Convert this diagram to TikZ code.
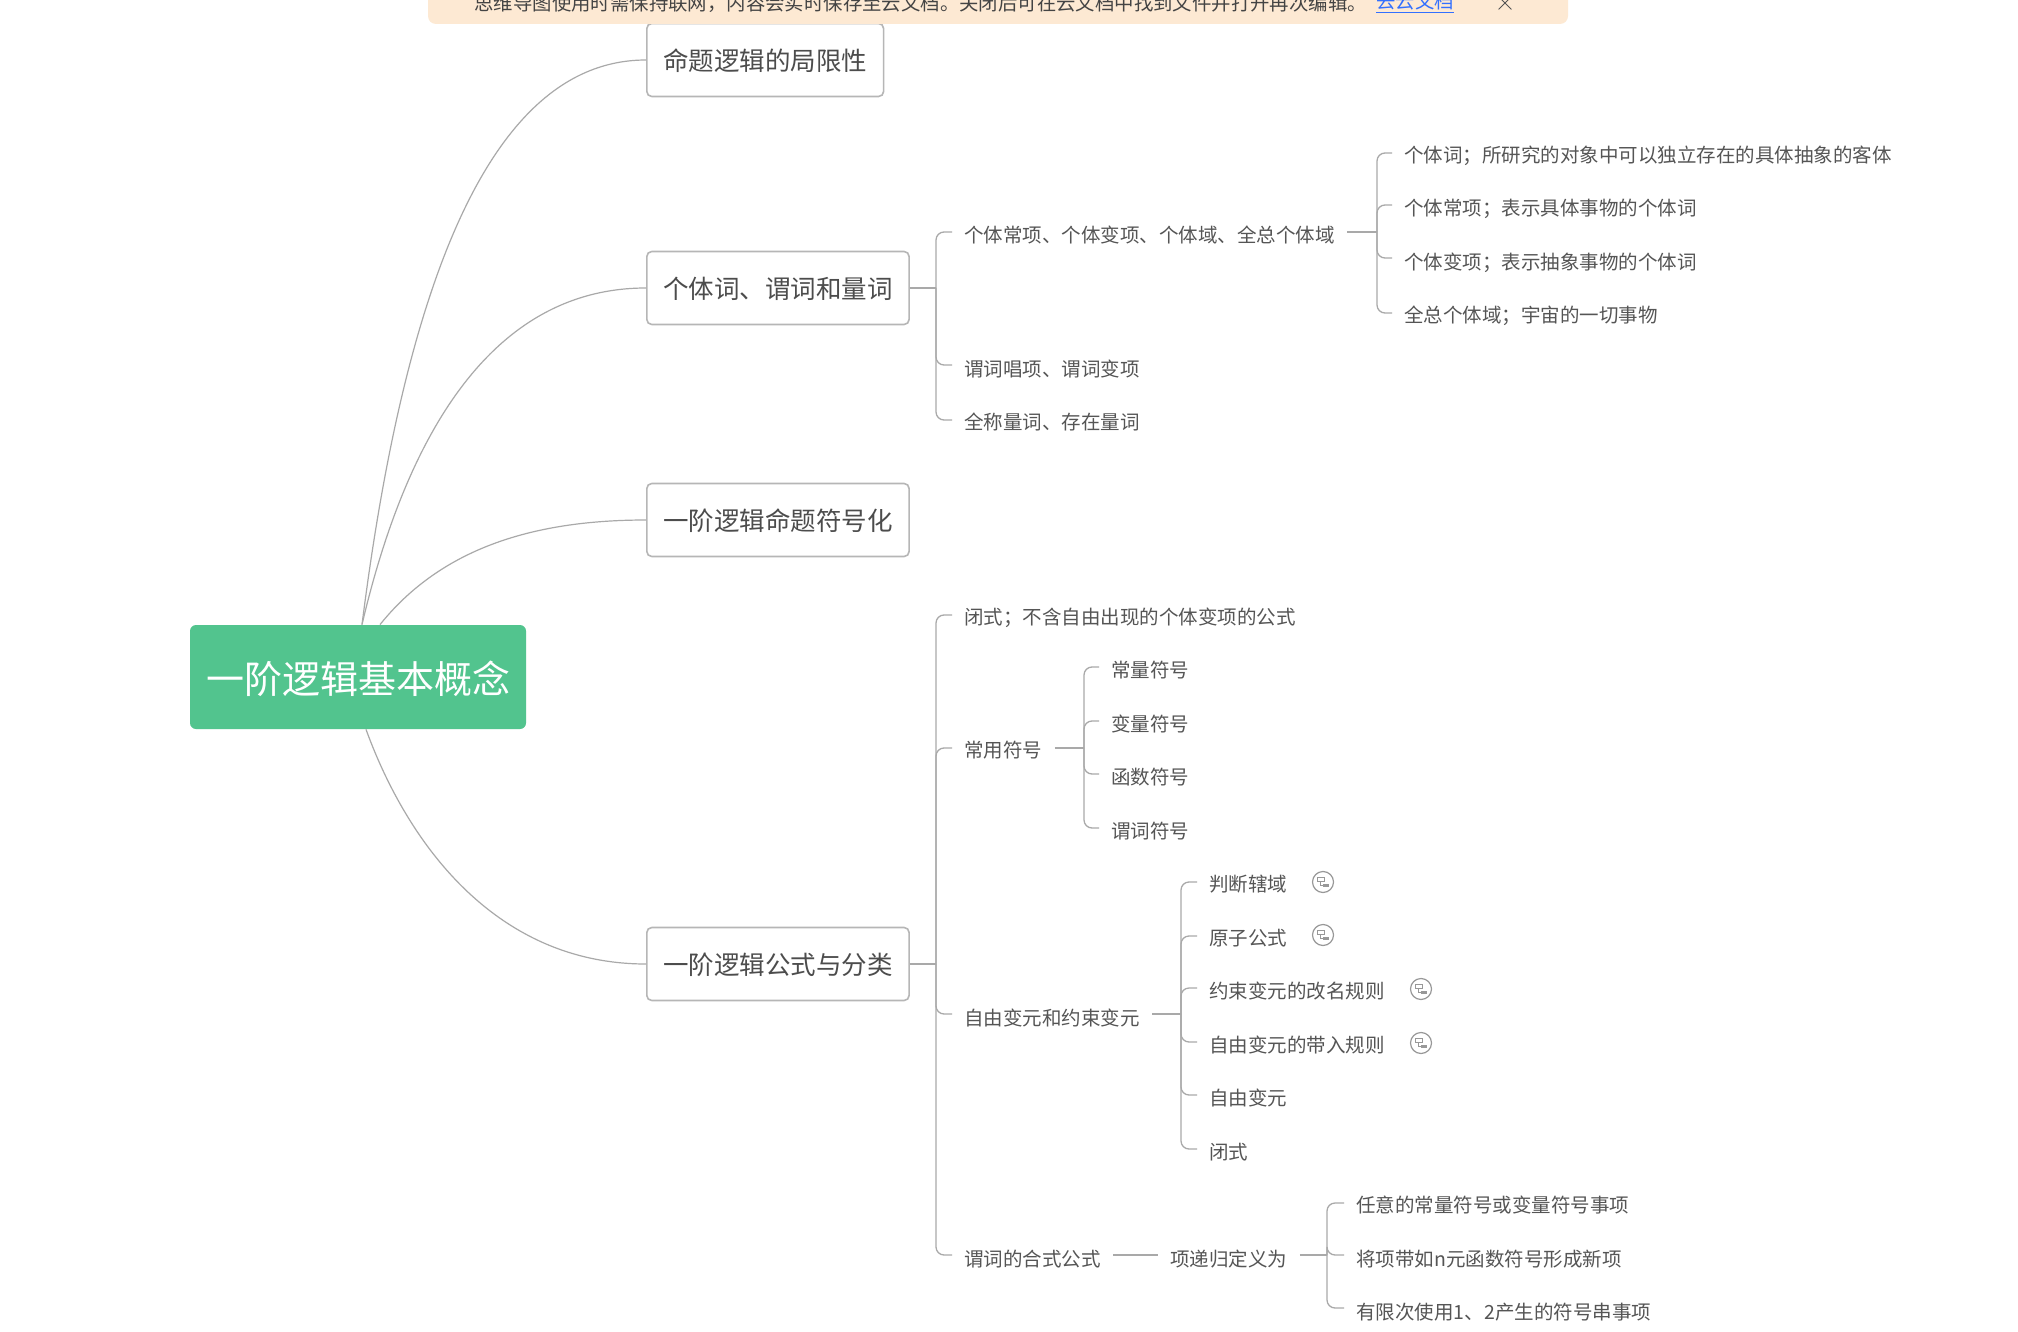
\documentclass[tikz,border=0pt]{standalone}
\usepackage{fontspec}
\setmainfont{Noto Sans CJK SC}
\usetikzlibrary{calc}
\definecolor{linec}{HTML}{A9A9A9}
\definecolor{txt}{HTML}{555555}
\definecolor{rootc}{HTML}{52C48E}
\definecolor{bannerc}{HTML}{FDE9D3}
\definecolor{linkc}{HTML}{3370FF}
\tikzset{
  conn/.style={draw=linec,line width=0.65pt,rounded corners=4pt},
  curve/.style={draw=linec,line width=0.6pt},
  leaf/.style={anchor=west,inner xsep=6pt,inner ysep=0pt,text=txt,text height=12pt,text depth=1.6pt,font=\fontsize{9.75}{12}\selectfont},
  up/.style={text depth=2.9pt},
  dn/.style={text depth=0.3pt},
  branch/.style={anchor=west,draw=linec!85,line width=0.8pt,fill=white,rounded corners=2.5pt,inner xsep=8.2pt,inner ysep=0pt,minimum height=36.5pt,text=txt!90!black,text height=12pt,text depth=1.3pt,font=\fontsize{12.75}{15}\selectfont},
  rootn/.style={fill=rootc,rounded corners=3pt,minimum width=168pt,minimum height=52pt,inner sep=0pt,text=white,text height=17pt,text depth=0.2pt,font=\fontsize{19}{22}\selectfont},
  iconc/.style={circle,draw=linec!90!black,line width=0.6pt,minimum size=10.5pt,inner sep=0pt},
  banner/.style={fill=bannerc,rounded corners=4pt},
  bannertxt/.style={anchor=west,inner sep=0pt,text=txt!80!black,font=\fontsize{9.7}{12}\selectfont},
}
\newcommand{\iconat}[3]{%
  \node[iconc] (#1) at (#2,#3) {};
  \draw[draw=linec!90!black,line width=0.5pt] ($(#1)+(-6,-5)$) rectangle ($(#1)+(1,-1)$);
  \draw[draw=linec!90!black,line width=0.5pt] ($(#1)+(-3,-1)$) |- ($(#1)+(0,3)$);
  \fill[linec!90!black] ($(#1)+(0,1.5)$) rectangle ($(#1)+(6,5)$);
}
\begin{document}
\begin{tikzpicture}[x=0.5pt,y=-0.5pt]
\useasboundingbox (0,0) rectangle (2018,1332);
\clip (0,0) rectangle (2018,1332);
\fill[white] (0,0) rectangle (2018,1332);
% root and branches
\node[rootn] (root) at (358,677) {一阶逻辑基本概念};
\node[branch] (b1) at (646,60) {命题逻辑的局限性};
\node[branch] (b2) at (646,288) {个体词、谓词和量词};
\node[branch] (b3) at (646,520) {一阶逻辑命题符号化};
\node[branch] (b4) at (646,964) {一阶逻辑公式与分类};
\coordinate (r1) at ($(root.north)+(4,0)$);
\coordinate (r3) at ($(root.north)+(22,0)$);
\coordinate (r4) at ($(root.south)+(8,0)$);
\draw[curve] (r1) .. controls (405,285) and (490,60) .. (b1.west);
\draw[curve] (r1) .. controls (410,420) and (500,288) .. (b2.west);
\draw[curve] (r3) .. controls (440,550) and (530,520) .. (b3.west);
\draw[curve] (r4) .. controls (410,850) and (500,964) .. (b4.west);
% group 2
\coordinate (h2) at (936,288);
\node[leaf] (a1) at (952,232) {个体常项、个体变项、个体域、全总个体域};
\node[leaf,dn] (a2) at (952,365) {谓词唱项、谓词变项};
\node[leaf,up] (a3) at (952,420) {全称量词、存在量词};
\draw[conn] (b2.east) -- (h2);
\foreach \k in {a1,a2,a3} \draw[conn] (h2) |- (\k.west);
\coordinate (h21) at (1377,232);
\node[leaf,up] (a11) at (1392,153) {个体词；所研究的对象中可以独立存在的具体抽象的客体};
\node[leaf] (a12) at (1392,205) {个体常项；表示具体事物的个体词};
\node[leaf,dn] (a13) at (1392,258) {个体变项；表示抽象事物的个体词};
\node[leaf,up] (a14) at (1392,313) {全总个体域；宇宙的一切事物};
\draw[conn] (a1.east) -- (h21);
\foreach \k in {a11,a12,a13,a14} \draw[conn] (h21) |- (\k.west);
% group 4
\coordinate (h4) at (936,964);
\node[leaf,up] (c1) at (952,615) {闭式；不含自由出现的个体变项的公式};
\node[leaf,up] (c2) at (952,748) {常用符号};
\node[leaf,dn] (c3) at (952,1014) {自由变元和约束变元};
\node[leaf,dn] (c4) at (952,1255) {谓词的合式公式};
\draw[conn] (b4.east) -- (h4);
\foreach \k in {c1,c2,c3,c4} \draw[conn] (h4) |- (\k.west);
\coordinate (h42) at (1084,748);
\node[leaf] (d1) at (1099,667) {常量符号};
\node[leaf] (d2) at (1099,721) {变量符号};
\node[leaf] (d3) at (1099,774) {函数符号};
\node[leaf] (d4) at (1099,828) {谓词符号};
\draw[conn] (c2.east) -- (h42);
\foreach \k in {d1,d2,d3,d4} \draw[conn] (h42) |- (\k.west);
\coordinate (h43) at (1181,1014);
\node[leaf,up] (e1) at (1197,882) {判断辖域};
\node[leaf,up] (e2) at (1197,936) {原子公式};
\node[leaf] (e3) at (1197,988) {约束变元的改名规则};
\node[leaf] (e4) at (1197,1042) {自由变元的带入规则};
\node[leaf] (e5) at (1197,1095) {自由变元};
\node[leaf] (e6) at (1197,1149) {闭式};
\draw[conn] (c3.east) -- (h43);
\foreach \k in {e1,e2,e3,e4,e5,e6} \draw[conn] (h43) |- (\k.west);
\iconat{i1}{1323}{882}
\iconat{i2}{1323}{935}
\iconat{i3}{1421}{989}
\iconat{i4}{1421}{1043}
\node[leaf,dn] (f1) at (1158,1255) {项递归定义为};
\draw[conn] (c4.east) -- (f1.west);
\coordinate (h44) at (1327,1255);
\node[leaf,up] (g1) at (1344,1203) {任意的常量符号或变量符号事项};
\node[leaf,dn] (g2) at (1344,1255) {将项带如n元函数符号形成新项};
\node[leaf,dn] (g3) at (1344,1308) {有限次使用1、2产生的符号串事项};
\draw[conn] (f1.east) -- (h44);
\foreach \k in {g1,g2,g3} \draw[conn] (h44) |- (\k.west);
% banner
\fill[banner] (428,-20) rectangle (1568,24);
\node[bannertxt] (bt) at (474,3) {思维导图使用时需保持联网，内容会实时保存至云文档。关闭后可在云文档中找到文件并打开再次编辑。};
\node[bannertxt,text=linkc] (bl) at (1376,3) {\underline{去云文档}};
\node[inner sep=0pt,minimum size=6pt] (bx) at (1505,3) {};
\draw[txt,line width=0.5pt] (bx.north west) -- (bx.south east) (bx.north east) -- (bx.south west);
\end{tikzpicture}
\end{document}
